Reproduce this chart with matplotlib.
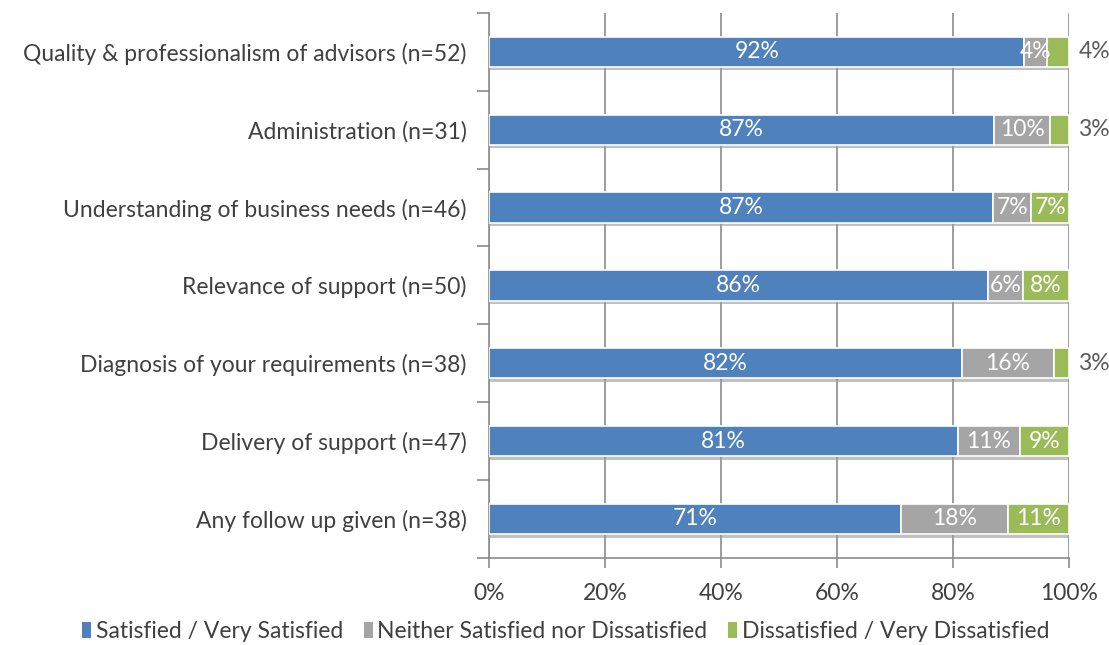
import numpy as np
import matplotlib.pyplot as plt
import matplotlib.patheffects as pe
from matplotlib.patches import Patch
from matplotlib.ticker import FuncFormatter, FixedLocator

categories = [
    "Quality & professionalism of advisors (n=52)",
    "Administration (n=31)",
    "Understanding of business needs (n=46)",
    "Relevance of support (n=50)",
    "Diagnosis of your requirements (n=38)",
    "Delivery of support (n=47)",
    "Any follow up given (n=38)",
]
respondents = [52, 31, 46, 50, 38, 47, 38]
satisfied = [48, 27, 40, 43, 31, 38, 27]
neither = [2, 3, 3, 3, 6, 5, 7]
dissatisfied = [2, 1, 3, 4, 1, 4, 4]

series_names = [
    "Satisfied / Very Satisfied",
    "Neither Satisfied nor Dissatisfied",
    "Dissatisfied / Very Dissatisfied",
]
colors = ["#4F81BD", "#A5A5A5", "#9BBB59"]

plt.rcParams["font.family"] = ["Lato", "DejaVu Sans"]
text_col = "#404040"
grid_col = "#8C8C8C"
fs = 16.5

n = np.array(respondents, dtype=float)
shares = [np.array(s) / n * 100 for s in (satisfied, neither, dissatisfied)]

fig = plt.figure(figsize=(11.09, 6.45), dpi=100)
ax = fig.add_axes([0.441, 0.135, 0.523, 0.845])

y = np.arange(len(categories))
left = np.zeros(len(categories))
shadow = [pe.SimplePatchShadow(offset=(0, -2.5), shadow_rgbFace="#999999", alpha=0.6), pe.Normal()]
for k, (vals, col) in enumerate(zip(shares, colors)):
    bars = ax.barh(y, vals, left=left, height=0.39, color=col, edgecolor="white",
                   linewidth=1.2, zorder=3)
    for b in bars:
        b.set_path_effects(shadow)
    for i, v in enumerate(vals):
        label = f"{v:.0f}%"
        if v < 5 and k == 2:
            ax.text(101.6, y[i], label, ha="left", va="center", fontsize=fs,
                    color="#595959", zorder=4)
        else:
            ax.text(left[i] + v / 2, y[i], label, ha="center", va="center",
                    fontsize=fs, color="white", zorder=4)
    left += vals

ax.set_xlim(0, 100)
ax.set_ylim(len(categories) - 0.5, -0.5)
ax.set_yticks(y)
ax.set_yticklabels(categories, fontsize=fs, color=text_col)
ax.yaxis.set_minor_locator(FixedLocator(np.arange(-0.5, len(categories), 1)))
ax.tick_params(axis="y", which="major", length=0, pad=16)
ax.tick_params(axis="y", which="minor", length=9, width=1.2, color=grid_col)

ax.set_xticks(np.arange(0, 101, 20))
ax.xaxis.set_major_formatter(FuncFormatter(lambda v, p: f"{v:.0f}%"))
ax.tick_params(axis="x", length=7, width=1.2, color=grid_col, labelsize=fs,
               labelcolor=text_col, pad=11)

ax.grid(axis="x", color=grid_col, linewidth=1.2, zorder=0)
for side in ("top", "right"):
    ax.spines[side].set_visible(False)
for side in ("left", "bottom"):
    ax.spines[side].set_color(grid_col)
    ax.spines[side].set_linewidth(1.2)

handles = [Patch(facecolor=c, edgecolor="none") for c in colors]
leg = fig.legend(handles, series_names, loc="lower center", bbox_to_anchor=(0.51, -0.028),
                 ncol=3, frameon=False, fontsize=fs, handlelength=0.4, handleheight=0.7,
                 handletextpad=0.2, columnspacing=0.9)
for t in leg.get_texts():
    t.set_color(text_col)

fig.savefig("out.png", dpi=100)
